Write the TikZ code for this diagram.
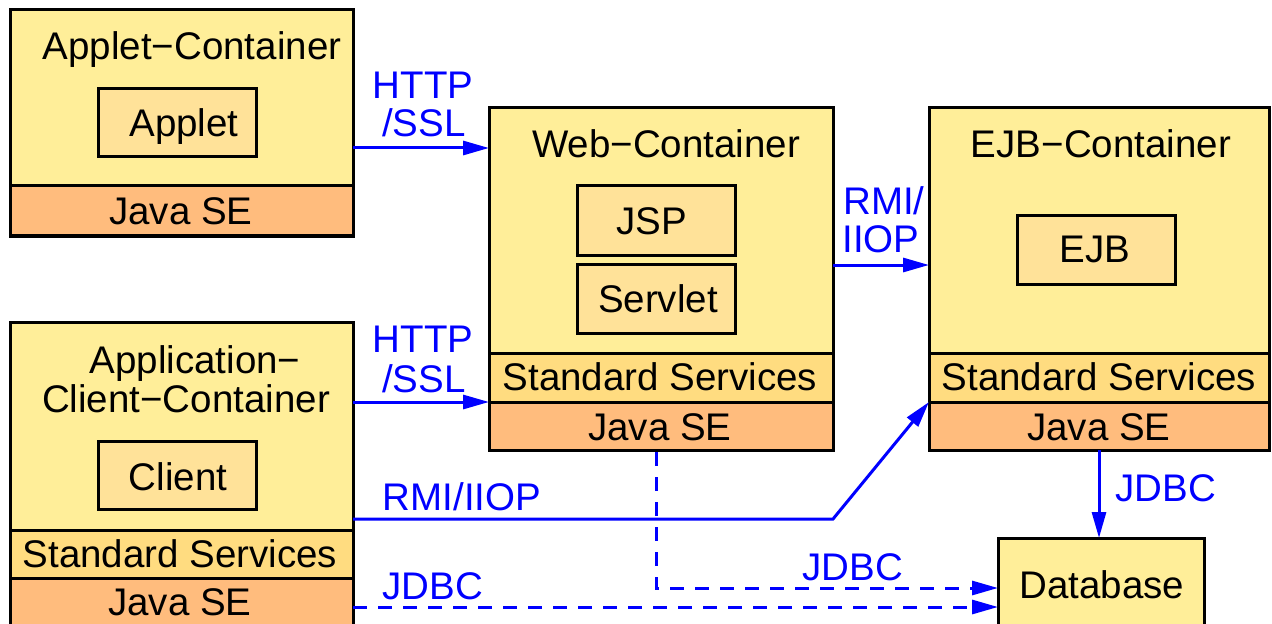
\documentclass[tikz,border=0pt]{standalone}
\usepackage{fontspec}
\setmainfont{Liberation Sans}
\usetikzlibrary{arrows.meta}
\definecolor{contfill}{RGB}{255,238,153}
\definecolor{partfill}{RGB}{255,226,153}
\definecolor{ssfill}{RGB}{255,220,128}
\definecolor{jsefill}{RGB}{255,188,125}
\definecolor{proto}{RGB}{0,0,255}

\begin{document}
\begin{tikzpicture}[x=1bp,y=-1bp,
  every node/.style={font=\fontsize{38.5bp}{44bp}\selectfont, inner sep=0pt, outer sep=0pt},
  box/.style={draw=black, line width=3bp, anchor=north west},
  container/.style={box, fill=contfill},
  part/.style={box, fill=partfill, minimum width=158bp, minimum height=68bp},
  ssband/.style={box, fill=ssfill},
  jseband/.style={box, fill=jsefill},
  txt/.style={anchor=base},
  lbl/.style={anchor=base, text=proto},
  link/.style={draw=proto, line width=3bp, -{Triangle[length=26bp,width=14bp]}},
  dlink/.style={link, dash pattern=on 14bp off 11bp},
]
\useasboundingbox (0,0) rectangle (1272,624);
\clip (0,0) rectangle (1272,624);

% Applet container
\node[container, minimum width=343bp, minimum height=226bp] (applet) at (10,10) {};
\node[jseband, minimum width=343bp, minimum height=50bp] (appletjse) at (10,186) {};
\node[part] (appletpart) at (98,89) {};
\node[txt] (applettitle) at (192,60) {Applet−Container};
\node[txt] (applettxt) at (184,137) {Applet};
\node[txt] (appletjsetxt) at (181,225) {Java SE};

% Web container
\node[container, minimum width=344bp, minimum height=342bp] (web) at (489,108) {};
\node[ssband, minimum width=344bp, minimum height=49bp] (webss) at (489,353) {};
\node[jseband, minimum width=344bp, minimum height=48bp] (webjse) at (489,402) {};
\node[part, minimum height=69bp] (jsp) at (577,186) {};
\node[part] (servlet) at (577,265) {};
\node[txt] (webtitle) at (666,158) {Web−Container};
\node[txt] (jsptxt) at (652,235) {JSP};
\node[txt] (servlettxt) at (658,313) {Servlet};
\node[txt] (websstxt) at (660,390) {Standard Services};
\node[txt] (webjsetxt) at (660,440) {Java SE};

% EJB container
\node[container, minimum width=340bp, minimum height=342bp] (ejb) at (929,108) {};
\node[ssband, minimum width=340bp, minimum height=49bp] (ejbss) at (929,353) {};
\node[jseband, minimum width=340bp, minimum height=48bp] (ejbjse) at (929,402) {};
\node[part] (ejbpart) at (1017,216) {};
\node[txt] (ejbtitle) at (1101,158) {EJB−Container};
\node[txt] (ejbtxt) at (1095,263) {EJB};
\node[txt] (ejbsstxt) at (1099,390) {Standard Services};
\node[txt] (ejbjsetxt) at (1099,440) {Java SE};

% Application client container
\node[container, minimum width=343bp, minimum height=330bp] (client) at (10,323) {};
\node[ssband, minimum width=343bp, minimum height=48bp] (clientss) at (10,530) {};
\node[jseband, minimum width=343bp, minimum height=70bp] (clientjse) at (10,578) {};
\node[part] (clientpart) at (98,441) {};
\node[txt] (clienttitlea) at (195,374) {Application−};
\node[txt] (clienttitleb) at (186,412) {Client−Container};
\node[txt] (clienttxt) at (178,490) {Client};
\node[txt] (clientsstxt) at (180,567) {Standard Services};
\node[txt] (clientjsetxt) at (180,615) {Java SE};

% Database
\node[container, minimum width=206bp, minimum height=100bp] (db) at (998,538) {};
\node[txt] (dbtxt) at (1102,598) {Database};

% Connections
\coordinate (a1) at ([yshift=-138bp]applet.north east);
\draw[link] (a1) -- (a1 -| web.west);
\node[lbl] at (423,99) {HTTP};
\node[lbl] at (424,137) {/SSL};

\coordinate (a2) at ([yshift=-79bp]client.north east);
\draw[link] (a2) -- (a2 -| web.west);
\node[lbl] at (423,353) {HTTP};
\node[lbl] at (424,392) {/SSL};

\coordinate (a3) at ([yshift=-157bp]web.north east);
\draw[link] (a3) -- (a3 -| ejb.west);
\node[lbl] at (884,215) {RMI/};
\node[lbl] at (881,253) {IIOP};

\coordinate (a4) at ([yshift=-196bp]client.north east);
\draw[link] (a4) -- (a4 -| web.east) -- (ejbjse.north west);
\node[lbl] at (462,510) {RMI/IIOP};

\draw[link] (ejbjse.south) -- (ejbjse.south |- db.north);
\node[lbl] at (1166,501) {JDBC};

\coordinate (a6) at ([xshift=-5bp,yshift=-2bp]webjse.south);
\draw[dlink] (a6) |- (db.west);
\node[lbl] at (853,580) {JDBC};

\coordinate (a7) at ([yshift=-284bp]client.north east);
\draw[dlink] (a7) -- (a7 -| db.west);
\node[lbl] at (433,599) {JDBC};
\end{tikzpicture}
\end{document}
